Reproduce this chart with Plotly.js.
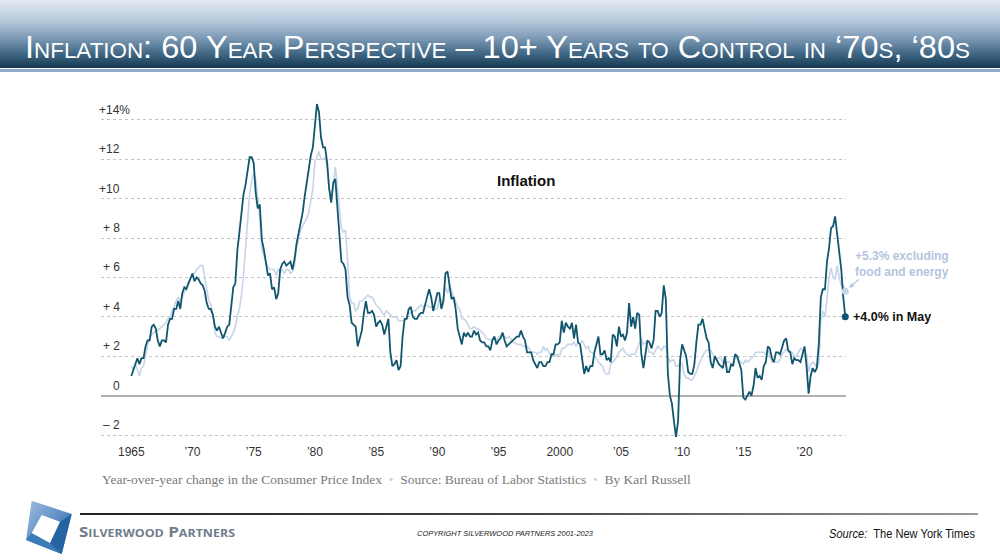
<!DOCTYPE html>
<html><head><meta charset="utf-8">
<script src="https://cdn.plot.ly/plotly-3.0.1.min.js"></script>
<style>
html,body{margin:0;padding:0;background:#fff;width:1000px;height:560px;overflow:hidden;position:relative;font-family:"Liberation Sans",Arial,sans-serif}
#hdr{position:absolute;left:0;top:0;width:1000px;height:68px;background:linear-gradient(to bottom,#e3eaf3 0%,#b7c9dc 30%,#7f9cb8 55%,#3e6582 80%,#143851 100%)}
#hdrw{position:absolute;left:0;top:68px;width:972px;height:1px;background:#fff}
#hdrb{position:absolute;left:0;top:69px;width:1000px;height:3px;background:#8eaaca}
#title{position:absolute;left:25px;top:31px;color:#fff;font-family:"Liberation Sans Narrow","Arial Narrow","Liberation Sans",sans-serif;font-size:32px;line-height:32px;font-variant:small-caps;white-space:nowrap;transform-origin:0 0}
#fline{position:absolute;left:80px;top:513px;width:898px;height:2px;background:linear-gradient(to right,#222,#444 50%,#999)}
#brand{position:absolute;left:79px;top:522px;color:#6e7c8c;font-family:"Open Sans","Liberation Sans",sans-serif;font-weight:700;font-size:15px;line-height:18px;font-variant:small-caps;white-space:nowrap;transform-origin:0 0}
#copy{position:absolute;left:417px;top:529px;color:#222;font-family:"Liberation Sans",Arial,sans-serif;font-style:italic;font-size:7.5px;line-height:10px;white-space:nowrap;transform-origin:0 0}
#src{position:absolute;left:829px;top:526px;color:#111;font-family:"Liberation Sans Narrow","Arial Narrow","Liberation Sans",sans-serif;font-size:12.5px;line-height:16px;white-space:nowrap;transform-origin:0 0}
#logo{position:absolute;left:0;top:490px}
#chart{position:absolute;left:0;top:0;width:1000px;height:560px}
</style>
</head><body>
<div id="hdr"></div><div id="hdrw"></div><div id="hdrb"></div>
<div id="title">Inflation: 60 Year Perspective – 10+ Years to Control in ‘70s, ‘80s</div>
<svg id="logo" width="90" height="70" viewBox="0 490 90 70">
<defs><linearGradient id="lg" x1="0" y1="0" x2="1" y2="1"><stop offset="0" stop-color="#a0bde0"/><stop offset="0.5" stop-color="#5f8fc4"/><stop offset="1" stop-color="#1f5a96"/></linearGradient></defs>
<polygon points="31.7,500.7 71.7,514 61.7,554 26,540" fill="url(#lg)"/>
<polygon points="71.7,514 61.7,554 50,543 60,521.7" fill="#2563a2"/>
<polygon points="61.7,554 26,540 31.7,533 50,543" fill="#3a7bb8"/>
<polygon points="41.7,515 60,521.7 50,543 31.7,533" fill="#fff"/>
</svg>
<div id="fline"></div>
<div id="brand">Silverwood Partners</div>
<div id="copy">COPYRIGHT SILVERWOOD PARTNERS 2001-2023</div>
<div id="src"><i>Source:</i>&nbsp; The New York Times</div>
<div id="chart"></div>
<script>
// Year-over-year change in CPI, all items (%), sampled Jan, Mar, May, Jul, Sep, Nov
const cpiAll = [
 1.0,1.3,1.7,1.9,1.6,1.9,   // 1965
 1.9,2.5,2.8,2.8,3.5,3.6,   // 1966
 3.4,2.8,2.5,2.8,2.8,2.7,   // 1967
 3.6,3.9,3.9,4.4,4.4,4.8,   // 1968
 4.4,5.2,5.5,5.4,5.7,6.0,   // 1969
 6.2,5.8,6.0,5.9,5.7,5.6,   // 1970
 5.3,4.7,4.4,4.4,4.1,3.5,   // 1971
 3.3,3.5,3.2,2.9,3.2,3.5,   // 1972
 3.6,4.6,5.5,5.7,7.4,8.3,   // 1973
 9.4,10.2,10.7,11.5,12.1,12.1, // 1974
 11.8,10.3,9.5,9.7,7.9,7.4, // 1975
 6.7,6.1,6.2,5.4,5.5,4.9,   // 1976
 5.2,6.4,6.7,6.8,6.6,6.7,   // 1977
 6.8,6.4,6.9,7.7,8.3,8.9,   // 1978
 9.3,10.1,10.8,11.3,12.2,12.6, // 1979
 13.9,14.8,14.4,13.1,12.6,12.6, // 1980
 11.8,10.5,9.8,10.8,11.0,9.6, // 1981
 8.4,6.8,6.7,6.4,5.0,4.6,   // 1982
 3.7,3.6,3.5,2.5,2.9,3.3,   // 1983
 4.2,4.8,4.2,4.2,4.3,4.1,   // 1984
 3.5,3.7,3.8,3.6,3.1,3.5,   // 1985
 3.9,2.2,1.5,1.6,1.8,1.3,   // 1986
 1.5,3.0,3.9,3.9,4.4,4.5,   // 1987
 4.0,3.9,3.9,4.1,4.2,4.2,   // 1988
 4.7,5.0,5.4,5.0,4.3,4.7,   // 1989
 5.2,5.2,4.4,4.8,6.2,6.3,   // 1990
 5.7,4.9,5.0,4.4,3.4,3.0,   // 1991
 2.6,3.2,3.0,3.2,3.0,3.0,   // 1992
 3.3,3.1,3.2,2.8,2.7,2.7,   // 1993
 2.5,2.5,2.3,2.8,3.0,2.6,   // 1994
 2.8,2.9,3.2,2.8,2.5,2.6,   // 1995
 2.7,2.8,2.9,3.0,3.0,3.3,   // 1996
 3.0,2.8,2.2,2.2,2.2,1.8,   // 1997
 1.6,1.4,1.7,1.7,1.5,1.5,   // 1998
 1.7,1.7,2.1,2.1,2.6,2.6,   // 1999
 2.7,3.8,3.2,3.7,3.5,3.4,   // 2000
 3.7,2.9,3.6,2.7,2.6,1.9,   // 2001
 1.1,1.5,1.2,1.5,1.5,2.2,   // 2002
 2.6,3.0,2.1,2.1,2.3,1.8,   // 2003
 1.9,1.7,3.1,3.0,2.5,3.5,   // 2004
 3.0,3.1,2.8,3.2,4.7,3.5,   // 2005
 4.0,3.4,4.2,4.1,2.1,1.4,   // 2006
 2.1,2.8,2.7,2.4,2.8,4.3,   // 2007
 4.3,4.0,4.2,5.6,4.9,1.1,   // 2008
 0.0,-0.4,-1.3,-2.1,-1.3,1.8, // 2009
 2.6,2.3,2.0,1.2,1.1,1.1,   // 2010
 1.6,2.7,3.6,3.6,3.9,3.4,   // 2011
 2.9,2.7,1.7,1.4,2.0,1.8,   // 2012
 1.6,1.5,1.4,2.0,1.2,1.2,   // 2013
 1.6,1.5,2.1,2.0,1.7,1.3,   // 2014
 -0.1,-0.2,0.0,0.2,0.0,0.5, // 2015
 1.4,0.9,1.0,0.8,1.5,1.7,   // 2016
 2.5,2.4,1.9,1.7,2.2,2.2,   // 2017
 2.1,2.4,2.8,2.9,2.3,2.2,   // 2018
 1.6,1.9,1.8,1.8,1.7,2.1,   // 2019
 2.5,1.5,0.1,1.0,1.4,1.2,   // 2020
 1.4,2.6,5.0,5.4,5.4,6.8,   // 2021
 7.5,8.5,8.6,9.1,8.2,7.1,   // 2022
 6.4,5.0,4.0                // 2023
];
// Year-over-year change in CPI excluding food and energy (%), same months
const cpiCore = [
 1.5,1.3,1.6,1.3,1.0,1.4,   // 1965
 1.5,2.0,2.6,2.9,3.1,3.2,   // 1966
 3.3,3.3,3.4,3.5,3.6,3.7,   // 1967
 3.9,4.0,4.3,4.6,4.8,5.0,   // 1968
 4.8,5.0,5.3,5.5,5.7,6.0,   // 1969
 6.2,6.2,6.4,6.5,6.6,6.6,   // 1970
 6.0,5.3,4.8,4.6,4.1,3.2,   // 1971
 3.0,3.0,2.9,3.0,3.0,3.0,   // 1972
 2.8,3.0,3.2,3.5,4.1,4.4,   // 1973
 5.1,6.1,7.6,9.0,10.2,10.9, // 1974
 11.3,11.0,10.0,9.0,7.4,7.1, // 1975
 6.7,6.5,6.4,6.4,6.4,6.1,   // 1976
 6.4,6.3,6.4,6.2,6.4,6.4,   // 1977
 6.2,6.3,6.6,7.5,8.0,8.4,   // 1978
 8.6,8.8,9.0,9.3,9.9,10.5,  // 1979
 11.9,12.1,12.4,12.0,12.0,12.1, // 1980
 11.6,10.5,9.9,10.9,11.6,10.6, // 1981
 9.7,8.5,8.3,8.4,6.9,5.0,   // 1982
 4.7,4.7,4.3,4.4,4.8,4.8,   // 1983
 4.9,5.0,5.1,5.0,5.0,4.8,   // 1984
 4.6,4.5,4.4,4.2,4.1,4.3,   // 1985
 4.2,4.1,4.0,4.0,4.0,3.8,   // 1986
 3.8,3.8,3.8,4.0,4.2,4.2,   // 1987
 4.3,4.3,4.4,4.5,4.6,4.5,   // 1988
 4.6,4.6,4.5,4.5,4.3,4.4,   // 1989
 4.4,4.9,4.8,5.0,5.5,5.2,   // 1990
 5.6,5.3,5.0,4.8,4.5,4.4,   // 1991
 3.9,3.9,3.8,3.6,3.4,3.4,   // 1992
 3.5,3.4,3.4,3.3,3.2,3.1,   // 1993
 2.9,2.9,2.8,2.9,2.9,2.8,   // 1994
 3.0,3.0,3.1,3.0,2.9,3.0,   // 1995
 2.9,2.7,2.7,2.6,2.6,2.6,   // 1996
 2.5,2.5,2.5,2.4,2.2,2.2,   // 1997
 2.2,2.1,2.2,2.2,2.5,2.3,   // 1998
 2.4,2.1,2.0,2.1,2.0,2.1,   // 1999
 2.0,2.4,2.4,2.5,2.6,2.6,   // 2000
 2.6,2.7,2.5,2.7,2.6,2.8,   // 2001
 2.6,2.4,2.5,2.2,2.2,2.0,   // 2002
 1.9,1.7,1.6,1.5,1.2,1.1,   // 2003
 1.1,1.6,1.7,1.8,2.0,2.2,   // 2004
 2.3,2.4,2.2,2.1,2.0,2.1,   // 2005
 2.1,2.1,2.4,2.7,2.9,2.6,   // 2006
 2.7,2.5,2.2,2.2,2.1,2.3,   // 2007
 2.5,2.4,2.3,2.5,2.5,2.0,   // 2008
 1.7,1.8,1.8,1.5,1.5,1.7,   // 2009
 1.6,1.1,0.9,0.9,0.8,0.8,   // 2010
 1.0,1.2,1.5,1.8,2.0,2.2,   // 2011
 2.3,2.3,2.3,2.1,2.0,1.9,   // 2012
 1.9,1.9,1.7,1.7,1.7,1.7,   // 2013
 1.6,1.7,2.0,1.9,1.7,1.7,   // 2014
 1.6,1.8,1.7,1.8,1.9,2.0,   // 2015
 2.2,2.2,2.2,2.2,2.2,2.1,   // 2016
 2.3,2.0,1.7,1.7,1.7,1.7,   // 2017
 1.8,2.1,2.2,2.4,2.2,2.2,   // 2018
 2.2,2.0,2.0,2.2,2.4,2.3,   // 2019
 2.3,2.1,1.2,1.6,1.7,1.6,   // 2020
 1.4,1.6,3.8,4.3,4.0,4.9,   // 2021
 6.0,6.5,6.0,5.9,6.6,6.0,   // 2022
 5.6,5.6,5.3                // 2023
];
const startYear = 1965;
const sampleMonths = ['01','03','05','07','09','11'];
const xTickVals = ['1965-01-01','1970-01-01','1975-01-01','1980-01-01','1985-01-01','1990-01-01','1995-01-01','2000-01-01','2005-01-01','2010-01-01','2015-01-01','2020-01-01'];
const xTickText = ['1965','’70','’75','’80','’85','’90','’95','2000','’05','’10','’15','’20'];
const yTickVals = [-2,0,2,4,6,8,10,12,14];
const yTickText = ['– 2','0','+ 2','+ 4','+ 6','+ 8','+10','+12','+14%'];
const chartTitle = 'Inflation';
const caption = 'Year-over-year change in the Consumer Price Index';
const sourceText = 'Source: Bureau of Labor Statistics';
const byline = 'By Karl Russell';
const allLabel = 'in May';
const coreLabel = 'excluding<br>food and energy';

const dates = cpiAll.map((_, i) => (startYear + Math.floor(i / 6)) + '-' + sampleMonths[i % 6] + '-01');
const last = cpiAll.length - 1;
const lastDate = dates[last];
const fmt = v => (v >= 0 ? '+' : '–') + Math.abs(v).toFixed(1) + '%';

const DARK = '#11566f', LIGHT = '#c7d5e7', LIGHTTXT = '#b3c5de';
const L = 101, R = 846, T = 95, B = 437;
const px2paper = px => (px - L) / (R - L);
const py2paper = py => (B - py) / (B - T);

const traces = [
  {x: dates, y: cpiCore, type: 'scatter', mode: 'lines', line: {color: LIGHT, width: 1.6}, hoverinfo: 'skip'},
  {x: dates, y: cpiAll, type: 'scatter', mode: 'lines', line: {color: DARK, width: 1.8}, hoverinfo: 'skip'},
  {x: [lastDate], y: [cpiCore[last]], type: 'scatter', mode: 'markers', marker: {color: LIGHT, size: 7}, cliponaxis: false},
  {x: [lastDate], y: [cpiAll[last]], type: 'scatter', mode: 'markers', marker: {color: DARK, size: 7}, cliponaxis: false}
];

const ann = [];
yTickVals.forEach((v, i) => {
  const t = yTickText[i];
  ann.push({xref: 'paper', yref: 'y', x: px2paper(122), y: v, text: t, showarrow: false,
    xanchor: 'right', yanchor: 'bottom', yshift: 1, xshift: t.endsWith('%') ? 10 : 0,
    font: {family: 'Liberation Sans, Arial, sans-serif', size: 12, color: '#333'}});
});
ann.push({xref: 'paper', yref: 'paper', x: px2paper(526), y: py2paper(180), xanchor: 'center', yanchor: 'middle',
  text: '<b>' + chartTitle + '</b>', showarrow: false,
  font: {family: 'Liberation Sans, Arial, sans-serif', size: 15, color: '#111'}});
ann.push({xref: 'x', yref: 'y', x: lastDate, y: cpiAll[last], text: '<b>' + fmt(cpiAll[last]) + ' ' + allLabel + '</b>', showarrow: false,
  xanchor: 'left', yanchor: 'middle', xshift: 6, font: {family: 'Liberation Sans, Arial, sans-serif', size: 12.5, color: '#111'}});
ann.push({xref: 'x', yref: 'y', x: lastDate, y: cpiCore[last], text: '<b>' + fmt(cpiCore[last]) + ' ' + coreLabel + '</b>', showarrow: false,
  xanchor: 'left', align: 'left', yanchor: 'middle', xshift: 8, yshift: 27,
  font: {family: 'Liberation Sans, Arial, sans-serif', size: 12, color: LIGHTTXT}});
ann.push({xref: 'x', yref: 'y', x: lastDate, y: cpiCore[last], text: '', showarrow: true, ax: 15, ay: -13,
  arrowcolor: LIGHTTXT, arrowwidth: 1.2, arrowhead: 2, arrowsize: 0.8, standoff: 5});
ann.push({xref: 'paper', yref: 'paper', x: px2paper(100), y: py2paper(479), xanchor: 'left', yanchor: 'middle', showarrow: false,
  text: caption + '  <span style="color:#d0d0d0">•</span>  ' + sourceText + '  <span style="color:#d0d0d0">•</span>  ' + byline,
  font: {family: 'Liberation Serif, Georgia, serif', size: 13.5, color: '#7a7a7a'}});

const layout = {
  width: 1000, height: 560, autosize: false,
  margin: {l: L, r: 1000 - R, t: T, b: 560 - B, pad: 0},
  paper_bgcolor: 'rgba(0,0,0,0)', plot_bgcolor: 'rgba(0,0,0,0)',
  showlegend: false,
  xaxis: {type: 'date', range: ['1962-07-11', '2023-05-22'], showgrid: false, zeroline: false, showline: false,
    tickvals: xTickVals, ticktext: xTickText, ticks: '', ticklabelstandoff: 6,
    tickfont: {family: 'Liberation Sans, Arial, sans-serif', size: 12, color: '#333'}, fixedrange: true},
  yaxis: {range: [-2.1, 15.26], tickvals: yTickVals, showticklabels: false, ticks: '',
    showgrid: true, gridcolor: '#c4c4c4', gridwidth: 1, griddash: 'dot',
    zeroline: true, zerolinecolor: '#b0b0b0', zerolinewidth: 2, showline: false, fixedrange: true},
  annotations: ann
};

Plotly.newPlot('chart', traces, layout, {staticPlot: true, displayModeBar: false});

function fit(id, w) {
  const el = document.getElementById(id);
  const cw = el.getBoundingClientRect().width;
  if (cw > 0) el.style.transform = 'scaleX(' + (w / cw) + ')';
}
fit('title', 945);
fit('brand', 156);
fit('copy', 176);
fit('src', 146);
</script>
</body></html>
